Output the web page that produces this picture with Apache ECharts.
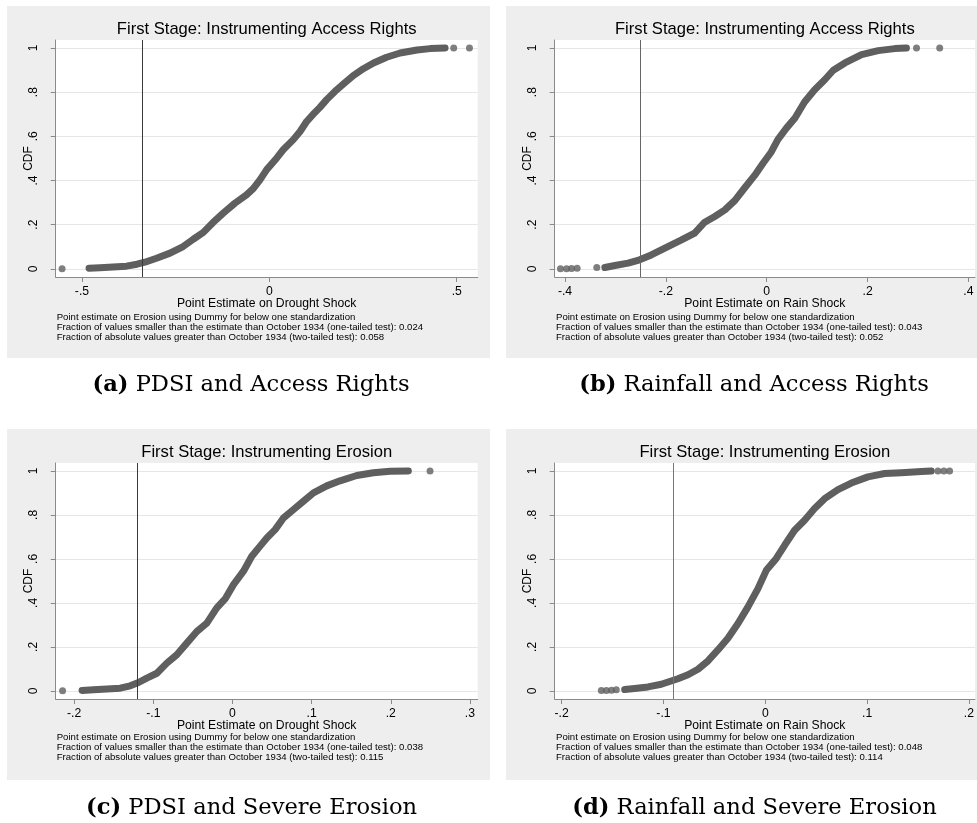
<!DOCTYPE html>
<html>
<head>
<meta charset="utf-8">
<script src="https://cdn.jsdelivr.net/npm/echarts@6/dist/echarts.min.js"></script>
<style>
  html, body { margin: 0; padding: 0; background: #fff; }
  #chart { width: 977px; height: 823px; }
</style>
</head>
<body>
<div id="chart"></div>
<script>
// CDF values, as [point estimate, cdf]
const yTicks = [0, 0.2, 0.4, 0.6, 0.8, 1];

// (a) PDSI and Access Rights
const titleA = 'First Stage: Instrumenting Access Rights';
const xNameA = 'Point Estimate on Drought Shock';
const xTicksA = [-0.5, 0, 0.5];
const xRangeA = [-0.570, 0.556];
const cutA = -0.336;
const curveA = [
  [-0.481, 0.003], [-0.452, 0.005], [-0.417, 0.008], [-0.381, 0.012], [-0.353, 0.021],
  [-0.332, 0.030], [-0.301, 0.048], [-0.265, 0.071], [-0.230, 0.101], [-0.203, 0.134],
  [-0.176, 0.165], [-0.150, 0.210], [-0.123, 0.252], [-0.092, 0.297], [-0.061, 0.335],
  [-0.043, 0.363], [-0.025, 0.403], [-0.007, 0.449], [0.020, 0.502], [0.037, 0.539],
  [0.064, 0.585], [0.082, 0.622], [0.100, 0.668], [0.118, 0.701], [0.135, 0.731],
  [0.153, 0.766], [0.175, 0.803], [0.198, 0.837], [0.224, 0.875], [0.251, 0.906],
  [0.278, 0.932], [0.313, 0.958], [0.349, 0.977], [0.394, 0.991], [0.429, 0.997],
  [0.469, 1.0]
];
const dotsA = [[-0.553, 0], [0.492, 1], [0.534, 1]];
const notesA = [
  'Point estimate on Erosion using Dummy for below one standardization',
  'Fraction of values smaller than the estimate than October 1934 (one-tailed test): 0.024',
  'Fraction of absolute values greater than October 1934 (two-tailed test): 0.058'
];
const captionA = ['(a)', 'PDSI and Access Rights'];

// (b) Rainfall and Access Rights
const titleB = 'First Stage: Instrumenting Access Rights';
const xNameB = 'Point Estimate on Rain Shock';
const xTicksB = [-0.4, -0.2, 0, 0.2, 0.4];
const xRangeB = [-0.4205, 0.413];
const cutB = -0.250;
const curveB = [
  [-0.321, 0.006], [-0.301, 0.015], [-0.275, 0.026], [-0.252, 0.041], [-0.229, 0.063],
  [-0.202, 0.094], [-0.169, 0.131], [-0.143, 0.162], [-0.123, 0.211], [-0.103, 0.237],
  [-0.083, 0.267], [-0.063, 0.310], [-0.044, 0.366], [-0.024, 0.423], [-0.007, 0.479],
  [0.009, 0.529], [0.022, 0.585], [0.039, 0.637], [0.056, 0.683], [0.075, 0.755],
  [0.095, 0.811], [0.115, 0.856], [0.132, 0.899], [0.155, 0.932], [0.188, 0.970],
  [0.221, 0.988], [0.254, 0.997], [0.277, 1.0]
];
const dotsB = [
  [-0.409, 0], [-0.397, 0], [-0.387, 0.002], [-0.376, 0.003], [-0.337, 0.006],
  [0.297, 1], [0.343, 1]
];
const notesB = [
  'Point estimate on Erosion using Dummy for below one standardization',
  'Fraction of values smaller than the estimate than October 1934 (one-tailed test): 0.043',
  'Fraction of absolute values greater than October 1934 (two-tailed test): 0.052'
];
const captionB = ['(b)', 'Rainfall and Access Rights'];

// (c) PDSI and Severe Erosion
const titleC = 'First Stage: Instrumenting Erosion';
const xNameC = 'Point Estimate on Drought Shock';
const xTicksC = [-0.2, -0.1, 0, 0.1, 0.2, 0.3];
const xRangeC = [-0.2233, 0.3098];
const cutC = -0.1187;
const curveC = [
  [-0.190, 0.002], [-0.1755, 0.005], [-0.1587, 0.008], [-0.1418, 0.012], [-0.1292, 0.023],
  [-0.1187, 0.038], [-0.1082, 0.058], [-0.0955, 0.080], [-0.0829, 0.126], [-0.0703, 0.164],
  [-0.0577, 0.217], [-0.0450, 0.270], [-0.0324, 0.308], [-0.0198, 0.377], [-0.0093, 0.418],
  [0.0013, 0.483], [0.0139, 0.544], [0.0244, 0.612], [0.0349, 0.658], [0.0434, 0.695],
  [0.0539, 0.733], [0.0644, 0.786], [0.0770, 0.824], [0.0896, 0.862], [0.1023, 0.900],
  [0.1191, 0.932], [0.1359, 0.955], [0.1570, 0.979], [0.1780, 0.992], [0.1991, 0.998],
  [0.2222, 1.0]
];
const dotsC = [[-0.2146, 0], [0.2496, 1]];
const notesC = [
  'Point estimate on Erosion using Dummy for below one standardization',
  'Fraction of values smaller than the estimate than October 1934 (one-tailed test): 0.038',
  'Fraction of absolute values greater than October 1934 (two-tailed test): 0.115'
];
const captionC = ['(c)', 'PDSI and Severe Erosion'];

// (d) Rainfall and Severe Erosion
const titleD = 'First Stage: Instrumenting Erosion';
const xNameD = 'Point Estimate on Rain Shock';
const xTicksD = [-0.2, -0.1, 0, 0.1, 0.2];
const xRangeD = [-0.2068, 0.2059];
const cutD = -0.0861;
const curveD = [
  [-0.1381, 0.006], [-0.1283, 0.011], [-0.1152, 0.018], [-0.1021, 0.030], [-0.0858, 0.055],
  [-0.0759, 0.073], [-0.0661, 0.098], [-0.0563, 0.136], [-0.0465, 0.186], [-0.0367, 0.239],
  [-0.0268, 0.306], [-0.0170, 0.382], [-0.0072, 0.465], [0.0010, 0.548], [0.0108, 0.602],
  [0.0190, 0.662], [0.0288, 0.730], [0.0386, 0.776], [0.0484, 0.829], [0.0583, 0.874],
  [0.0714, 0.915], [0.0845, 0.945], [0.1008, 0.973], [0.1172, 0.988], [0.1336, 0.992],
  [0.1532, 0.997], [0.1630, 1.0]
];
const dotsD = [
  [-0.1610, 0.002], [-0.1560, 0.002], [-0.1510, 0.003], [-0.1463, 0.005],
  [0.1696, 1], [0.1754, 1], [0.1810, 1]
];
const notesD = [
  'Point estimate on Erosion using Dummy for below one standardization',
  'Fraction of values smaller than the estimate than October 1934 (one-tailed test): 0.048',
  'Fraction of absolute values greater than October 1934 (two-tailed test): 0.114'
];
const captionD = ['(d)', 'Rainfall and Severe Erosion'];

const panels = [
  { title: titleA, xName: xNameA, xTicks: xTicksA, xRange: xRangeA, cut: cutA, curve: curveA, dots: dotsA, notes: notesA, caption: captionA },
  { title: titleB, xName: xNameB, xTicks: xTicksB, xRange: xRangeB, cut: cutB, curve: curveB, dots: dotsB, notes: notesB, caption: captionB },
  { title: titleC, xName: xNameC, xTicks: xTicksC, xRange: xRangeC, cut: cutC, curve: curveC, dots: dotsC, notes: notesC, caption: captionC },
  { title: titleD, xName: xNameD, xTicks: xTicksD, xRange: xRangeD, cut: cutD, curve: curveD, dots: dotsD, notes: notesD, caption: captionD }
];

// page layout, in pixels
const layout = [
  { bg: [7, 6, 483, 352], grid: { left: 55.7, top: 40, width: 422, height: 237 }, noteX: 56.7, noteY: 317, cap: [251, 385], cut: '#3a3a3a' },
  { bg: [506, 6, 471, 352], grid: { left: 554.7, top: 40, width: 420.3, height: 237 }, noteX: 556, noteY: 317, cap: [754, 385], cut: '#666666' },
  { bg: [7, 429, 483, 351], grid: { left: 55.7, top: 463, width: 422, height: 236 }, noteX: 56.7, noteY: 737, cap: [251.5, 808], cut: '#3a3a3a' },
  { bg: [506, 429, 471, 351], grid: { left: 554.7, top: 463, width: 420.3, height: 236 }, noteX: 556, noteY: 737, cap: [754.5, 808], cut: '#777777' }
];

const SANS = '"Liberation Sans", Arial, sans-serif';
const SERIF = '"DejaVu Serif", serif';
const MARK = '#5f5f5f';
const AXIS = '#8a8a8a';

// Stata style tick labels: .5, -.2, 0, 1
function stata(v) {
  const s = String(+Number(v).toFixed(3));
  return s.replace(/^(-?)0\./, '$1.');
}

const graphic = [];
layout.forEach((l, i) => {
  const p = panels[i];
  const g = l.grid;
  graphic.push({ type: 'rect', z: -10, z2: 0, silent: true,
    shape: { x: l.bg[0], y: l.bg[1], width: l.bg[2], height: l.bg[3] }, style: { fill: '#eeeeee' } });
  graphic.push({ type: 'rect', z: -10, z2: 1, silent: true,
    shape: { x: g.left, y: g.top, width: g.width, height: g.height }, style: { fill: '#ffffff' } });
  graphic.push({ type: 'text', z: 10, silent: true, x: g.left + g.width / 2, y: g.top - 11,
    style: { text: p.title, fill: '#000', fontSize: 16.6, fontFamily: SANS, align: 'center', verticalAlign: 'middle' } });
  p.notes.forEach((t, k) => {
    graphic.push({ type: 'text', z: 10, silent: true, x: l.noteX, y: l.noteY + k * 10.3,
      style: { text: t, fill: '#000', fontSize: 9.6, fontFamily: SANS, align: 'left', verticalAlign: 'middle' } });
  });
  graphic.push({ type: 'text', z: 10, silent: true, x: l.cap[0], y: l.cap[1],
    style: {
      text: '{b|' + p.caption[0] + '} ' + p.caption[1],
      fill: '#000', fontSize: 22.6, fontFamily: SERIF, align: 'center', verticalAlign: 'middle',
      rich: { b: { fontWeight: 'bold', fontSize: 22.6, fontFamily: SERIF, fill: '#000' } }
    } });
});

const option = {
  animation: false,
  backgroundColor: '#ffffff',
  graphic: graphic,
  grid: layout.map(l => Object.assign({ show: false, containLabel: false }, l.grid)),
  xAxis: panels.map((p, i) => ({
    type: 'value', gridIndex: i, min: p.xRange[0], max: p.xRange[1],
    name: p.xName, nameLocation: 'middle', nameGap: 21, nameMoveOverlap: false,
    nameTextStyle: { color: '#000', fontSize: 12.2, fontFamily: SANS },
    axisLine: { show: true, onZero: false, lineStyle: { color: AXIS, width: 1 } },
    axisTick: { show: true, length: 5, customValues: p.xTicks, lineStyle: { color: AXIS } },
    axisLabel: { customValues: p.xTicks, formatter: stata, margin: 9, color: '#000', fontSize: 12.2, fontFamily: SANS },
    splitLine: { show: false }
  })),
  yAxis: panels.map((p, i) => ({
    type: 'value', gridIndex: i, min: -0.037, max: 1.036,
    name: 'CDF', nameLocation: 'middle', nameGap: 21, nameRotate: 90, nameMoveOverlap: false,
    nameTextStyle: { color: '#000', fontSize: 12, fontFamily: SANS },
    axisLine: { show: true, onZero: false, lineStyle: { color: AXIS, width: 1 } },
    axisTick: { show: true, length: 5, customValues: yTicks, lineStyle: { color: AXIS } },
    axisLabel: { customValues: yTicks, formatter: stata, rotate: 90, margin: 16, color: '#000', fontSize: 12, fontFamily: SANS },
    splitLine: { show: true, lineStyle: { color: '#e6e6e6', width: 1 } }
  })),
  series: []
};

panels.forEach((p, i) => {
  option.series.push({
    type: 'line', xAxisIndex: i, yAxisIndex: i, data: p.curve,
    showSymbol: false, silent: true,
    lineStyle: { color: MARK, width: 7, cap: 'round', join: 'round' }
  });
  option.series.push({
    type: 'scatter', xAxisIndex: i, yAxisIndex: i, data: p.dots,
    symbolSize: 7, silent: true, itemStyle: { color: MARK },
    markLine: {
      silent: true, symbol: 'none', label: { show: false },
      lineStyle: { color: layout[i].cut, width: 1, type: 'solid' },
      data: [{ xAxis: p.cut }]
    }
  });
});

const chart = echarts.init(document.getElementById('chart'), null, { renderer: 'canvas' });
chart.setOption(option);
</script>
</body>
</html>
